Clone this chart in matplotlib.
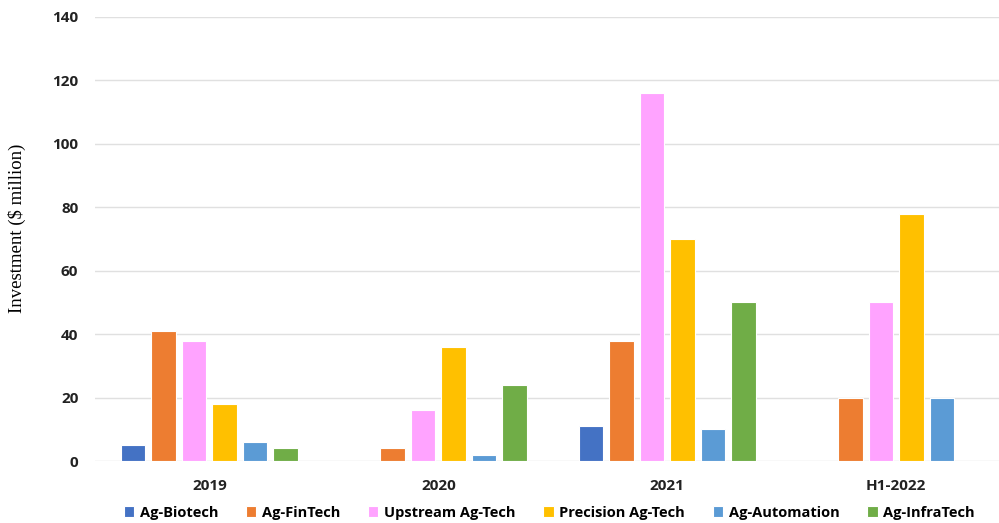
import matplotlib
matplotlib.use("Agg")
import matplotlib.pyplot as plt
import numpy as np

# ---- 各年份投資額（百萬美元）----
periods = ["2019", "2020", "2021", "H1-2022"]
series = ["Ag-Biotech", "Ag-FinTech", "Upstream Ag-Tech",
          "Precision Ag-Tech", "Ag-Automation", "Ag-InfraTech"]
biotech    = [5, 0, 11, 0]
fintech    = [41, 4, 38, 20]
upstream   = [38, 16, 116, 50]
precision  = [18, 36, 70, 78]
automation = [6, 2, 10, 20]
infratech  = [4, 24, 50, 0]
values = [biotech, fintech, upstream, precision, automation, infratech]
colors = ["#4472C4", "#ED7D31", "#FFA3FF", "#FFC000", "#5B9BD5", "#70AD47"]

fig = plt.figure(figsize=(9.99, 5.23), dpi=100)
ax = fig.add_axes([0.0951, 0.1185, 0.905, 0.849])

x = np.arange(len(periods))
step = 0.1333
width = 0.107
for j, (name, vals, c) in enumerate(zip(series, values, colors)):
    ax.bar(x + (j - 2.5) * step, vals, width, color=c, label=name,
           edgecolor="white", linewidth=0.8, zorder=3)

ax.set_xlim(-0.5, 3.45)
ax.set_ylim(0, 140)
ax.set_yticks(range(0, 141, 20))
ax.set_xticks(x)
ax.set_xticklabels(periods)
ax.grid(axis="y", color="#E0E0E0", linewidth=1, zorder=0)
for s in ax.spines.values():
    s.set_visible(False)
ax.tick_params(length=0)
ax.tick_params(axis="x", pad=13)
ax.tick_params(axis="y", pad=12)
for lab in ax.get_xticklabels() + ax.get_yticklabels():
    lab.set_fontfamily("Open Sans")
    lab.set_fontweight("bold")
    lab.set_fontsize(11)
    lab.set_color("#222222")

fig.text(0.017, 0.564, "Investment ($ million)", rotation=90, va="center", ha="center",
         fontfamily="Liberation Serif", fontsize=13.5)

fig.legend(loc="center", bbox_to_anchor=(0.55, 0.02), ncol=6, frameon=False,
           prop={"family": "Open Sans", "weight": "bold", "size": 10.5},
           handlelength=0.7, handleheight=0.7, handletextpad=0.4, columnspacing=1.9)

plt.savefig("out.png", dpi=100)
